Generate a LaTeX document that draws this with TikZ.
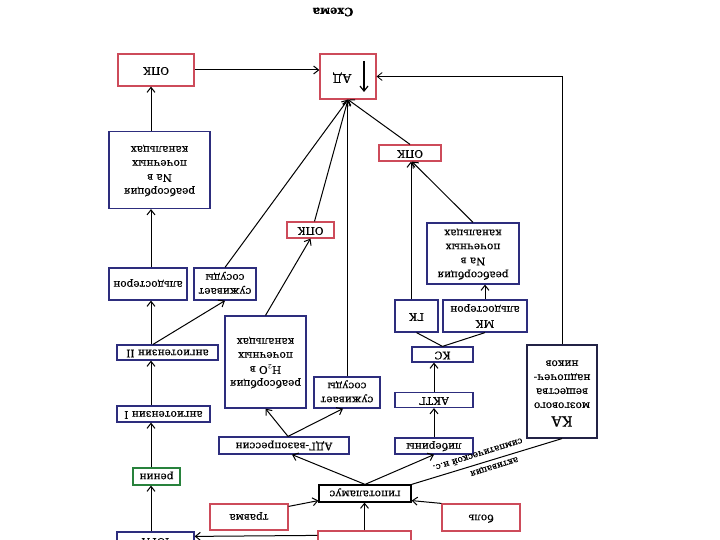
\documentclass[tikz,border=0pt]{standalone}
\usepackage{fontspec}
\setmainfont{DejaVu Serif}[FakeBold=0.4]
\usetikzlibrary{arrows.meta,calc}
\newcommand\R[1]{\rotatebox{180}{\begin{tabular}{@{}c@{}}#1\end{tabular}}}
\definecolor{rd}{RGB}{205,75,90}
\definecolor{bl}{RGB}{45,45,125}
\definecolor{gr}{RGB}{40,130,60}
\definecolor{dk}{RGB}{35,35,70}
\begin{document}
\begin{tikzpicture}[x=1pt,y=-1pt,
  font=\fontsize{10.5}{14}\selectfont,
  box/.style={draw, line width=1.2pt, inner sep=0pt, fill=white},
  rbox/.style={box, draw=rd},
  bbox/.style={box, draw=bl},
  gbox/.style={box, draw=gr},
  kbox/.style={box, draw=black},
  arr/.style={line width=1pt, -{Straight Barb[length=5pt,width=8pt]}},
  ln/.style={line width=1pt},
  lbl/.style={font=\fontsize{9}{10}\selectfont, inner sep=0pt}]
\useasboundingbox (0,0) rectangle (720,540);
\clip (0,0) rectangle (720,540);
\fill[white] (0,0) rectangle (720,540);

\node[font=\bfseries\fontsize{11.5}{13}\selectfont] (title) at (333,12) {\rotatebox{180}{Схема}};

% top row
\node[rbox, minimum width=76pt, minimum height=32pt] (opk1) at (156,70) {\R{ОПК}};
\node[rbox, minimum width=56pt, minimum height=45pt] (ad) at (348,76.5) {};
\node[inner sep=0pt, font=\fontsize{12}{14}\selectfont] (adt) at (342,77) {\R{АД}};
\coordinate (adA) at (364,61);
\coordinate (adB) at (364,92);
\draw[arr, line width=1.2pt] (adA) -- (adB);

% left column
\node[bbox, minimum width=101pt, minimum height=77pt] (rna1) at (159.5,170) {\R{реабсорбция\\Na в\\почечных\\канальцах}};
\node[bbox, minimum width=78pt, minimum height=32pt] (aldo1) at (148,284) {\R{альдостерон}};
\node[bbox, minimum width=62pt, minimum height=32pt] (suzh1) at (225,284) {\R{суживает\\сосуды}};
\node[rbox, minimum width=47pt, minimum height=16pt] (opk2) at (310.5,230) {\R{ОПК}};
\node[bbox, minimum width=101pt, minimum height=15pt] (angII) at (167.5,352.5) {\R{ангиотензин II}};
\node[bbox, minimum width=81pt, minimum height=92pt] (rh2o) at (265.5,362) {\R{реабсорбция\\H$_2$O в\\почечных\\канальцах}};
\node[bbox, minimum width=66pt, minimum height=31pt] (suzh2) at (347,392.5) {\R{суживает\\сосуды}};
\node[bbox, minimum width=93pt, minimum height=16pt] (angI) at (163.5,414) {\R{ангиотензин I}};
\node[bbox, minimum width=130pt, minimum height=17pt] (adg) at (284,445.5) {\R{АДГ-вазопрессин}};
\node[gbox, minimum width=47pt, minimum height=17pt] (renin) at (156.5,476.5) {\R{ренин}};
\node[kbox, minimum width=92pt, minimum height=17pt] (hyp) at (365,493.5) {\R{гипоталамус}};
\node[rbox, minimum width=78pt, minimum height=26pt] (trauma) at (249,517) {\R{травма}};
\node[rbox, minimum width=78pt, minimum height=27pt] (bol) at (481,517.5) {\R{боль}};
\node[bbox, minimum width=77pt, minimum height=18pt] (yuga) at (155.5,541) {\R{ЮГА}};
\node[rbox, minimum width=93pt, minimum height=22pt] (botred) at (364.5,542) {};

% right column
\node[rbox, minimum width=62pt, minimum height=16pt] (opk3) at (410,153) {\R{ОПК}};
\node[bbox, minimum width=92pt, minimum height=61pt] (rna2) at (473,253.5) {\R{реабсорбция\\Na в\\почечных\\канальцах}};
\node[bbox, minimum width=43pt, minimum height=32pt] (gk) at (416.5,316) {\R{ГК}};
\node[bbox, minimum width=84pt, minimum height=32pt] (mk) at (485,316) {\R{МК\\альдостерон}};
\node[bbox, minimum width=61pt, minimum height=15pt] (ks) at (442.5,354.5) {\R{КС}};
\node[bbox, minimum width=78pt, minimum height=15pt] (aktg) at (434,400) {\R{АКТГ}};
\node[bbox, minimum width=78pt, minimum height=16pt] (lib) at (434,446) {\R{либерины}};
\node[box, draw=dk, minimum width=70pt, minimum height=93pt] (ka) at (562,391.5) {\R{{\fontsize{14}{16}\selectfont КА}\\мозгового\\вещества\\надпочеч-\\ников}};

\coordinate (colL) at (151,0);
\coordinate (colR) at (411,0);

% connectors into АД
\draw[arr] (opk1.east) -- (opk1.east -| ad.west);
\draw[line width=0.8pt, -{Straight Barb[length=5pt,width=8pt]}] (ka.north) |- (ad.east);
\draw[arr] (suzh1.north) -- (ad.south);
\draw[arr] ([xshift=4pt]opk2.north) -- (ad.south);
\draw[arr] (suzh2.north) -- (suzh2.north |- ad.south);
\draw[arr] (opk3.north) -- (ad.south);

% left chain
\draw[arr] (yuga.north -| colL) -- (renin.south -| colL);
\draw[arr] (renin.north -| colL) -- (angI.south -| colL);
\draw[arr] (angI.north -| colL) -- (angII.south -| colL);
\draw[arr] (angII.north -| colL) -- (aldo1.south -| colL);
\draw[arr] (aldo1.north -| colL) -- (rna1.south -| colL);
\draw[arr] (rna1.north -| colL) -- (opk1.south -| colL);
\draw[arr] ([xshift=2pt]angII.north -| colL) -- (suzh1.south);
\draw[arr] ([yshift=-5pt]botred.north west) -- ([yshift=-5pt]yuga.north east);

% middle
\draw[arr] (rh2o.north) -- (opk2.south);
\draw[arr] ([xshift=4pt]adg.north) -- (rh2o.south);
\draw[arr] ([xshift=4pt]adg.north) -- ([xshift=-4pt]suzh2.south);
\draw[arr] (hyp.north) -- ([xshift=8pt]adg.south);
\draw[arr] (hyp.north) -- (lib.south);
\draw[arr] ([yshift=-3pt]trauma.north east) -- ([yshift=2pt]hyp.south west);
\draw[arr] (botred.north) -- (botred.north |- hyp.south);
\draw[arr] (bol.north west) -- ([yshift=2pt]hyp.south east);
\draw[ln] (hyp.north east) -- (ka.south);
\node[lbl, rotate=197.3] (l1) at (478,455) {симпатической н.с.};
\node[lbl, rotate=197.3] (l2) at (494,466) {активация};

% right chain
\draw[arr] (lib.north) -- (aktg.south);
\draw[arr] (aktg.north) -- (aktg.north |- ks.south);
\draw[ln] (ks.north) -- (gk.south);
\draw[ln] (ks.north) -- (mk.south);
\draw[arr] (gk.north -| colR) -- (opk3.south -| colR);
\draw[arr] (rna2.north) -- ([xshift=2pt]opk3.south);
\draw[arr] (mk.north) -- (mk.north |- rna2.south);
\end{tikzpicture}
\end{document}
